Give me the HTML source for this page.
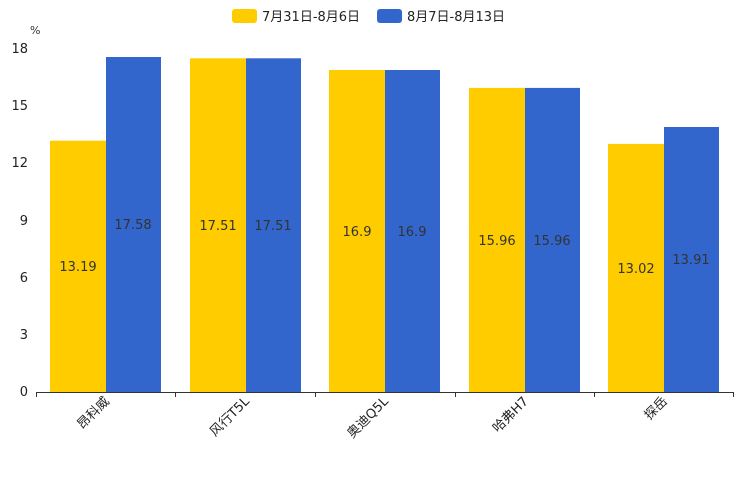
<!DOCTYPE html>
<html><head><meta charset="utf-8"><style>body{margin:0;background:#fff}svg{display:block}text{font-family:"DejaVu Sans","Noto Sans CJK SC",sans-serif}</style></head><body>
<svg width="744" height="496" viewBox="0 0 744 496">
<rect x="232" y="9" width="25" height="14" rx="3" fill="#ffcc00"/>
<text x="262" y="21" font-size="13" fill="#222">7月31日-8月6日</text>
<rect x="377" y="9" width="25" height="14" rx="3" fill="#3366cc"/>
<text x="407" y="21" font-size="13" fill="#222">8月7日-8月13日</text>
<text x="30" y="34" font-size="11" fill="#333">%</text>
<g font-size="13" fill="#222" text-anchor="end">
<text x="28" y="396">0</text><text x="28" y="339">3</text><text x="28" y="282">6</text>
<text x="28" y="225">9</text><text x="28" y="167">12</text><text x="28" y="110">15</text><text x="28" y="53">18</text>
</g>
<rect x="50" y="140.7" width="56" height="251.3" fill="#ffcc00"/>
<rect x="106" y="57" width="55" height="335" fill="#3366cc"/>
<rect x="190" y="58.3" width="56" height="333.7" fill="#ffcc00"/>
<rect x="246" y="58.3" width="55" height="333.7" fill="#3366cc"/>
<rect x="329" y="70" width="56" height="322" fill="#ffcc00"/>
<rect x="385" y="70" width="55" height="322" fill="#3366cc"/>
<rect x="469" y="87.9" width="56" height="304.1" fill="#ffcc00"/>
<rect x="525" y="87.9" width="55" height="304.1" fill="#3366cc"/>
<rect x="608" y="143.9" width="56" height="248.1" fill="#ffcc00"/>
<rect x="664" y="127" width="55" height="265" fill="#3366cc"/>
<g font-size="13" fill="#333" text-anchor="middle">
<text x="78" y="271">13.19</text><text x="133" y="229">17.58</text>
<text x="218" y="230">17.51</text><text x="273" y="230">17.51</text>
<text x="357" y="236">16.9</text><text x="412" y="236">16.9</text>
<text x="497" y="245">15.96</text><text x="552" y="245">15.96</text>
<text x="636" y="273">13.02</text><text x="691" y="264">13.91</text>
</g>
<g stroke="#333" stroke-width="1">
<line x1="36" y1="392.5" x2="734" y2="392.5"/>
<line x1="36.5" y1="392" x2="36.5" y2="397"/><line x1="175.5" y1="392" x2="175.5" y2="397"/>
<line x1="315.5" y1="392" x2="315.5" y2="397"/><line x1="455.5" y1="392" x2="455.5" y2="397"/>
<line x1="594.5" y1="392" x2="594.5" y2="397"/><line x1="733.5" y1="392" x2="733.5" y2="397"/>
</g>
<g font-size="13" fill="#222" text-anchor="end">
<text transform="translate(110,402) rotate(-45)">昂科威</text>
<text transform="translate(250,402) rotate(-45)">风行T5L</text>
<text transform="translate(389,402) rotate(-45)">奥迪Q5L</text>
<text transform="translate(529,402) rotate(-45)">哈弗H7</text>
<text transform="translate(668,402) rotate(-45)">探岳</text>
</g>
</svg>
</body></html>
